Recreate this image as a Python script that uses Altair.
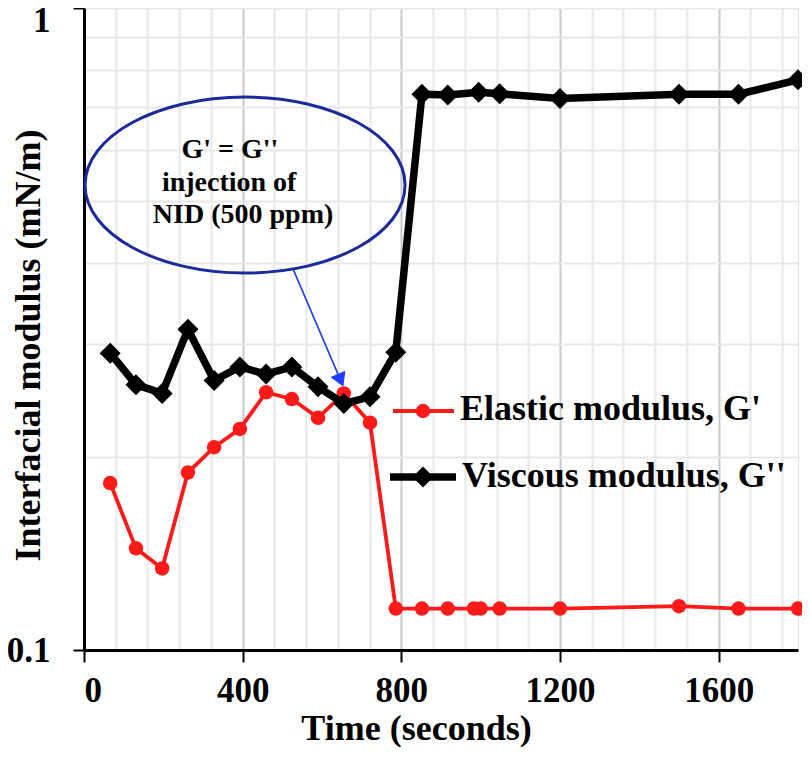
import altair as alt
import pandas as pd

# ---- data ----
elastic_t = [66, 131, 197, 262, 328, 393, 459, 524, 590, 655, 721, 786, 852, 917, 983, 1000, 1048, 1200, 1500, 1650, 1800]
elastic_v = [0.182, 0.144, 0.134, 0.189, 0.207, 0.221, 0.252, 0.246, 0.230, 0.251, 0.226,
             0.116, 0.116, 0.116, 0.116, 0.116, 0.116, 0.116, 0.117, 0.116, 0.116]
viscous_t = [66, 131, 197, 262, 328, 393, 459, 524, 590, 655, 721, 786, 852, 917, 995, 1048, 1200, 1500, 1650, 1800]
viscous_v = [0.290, 0.259, 0.251, 0.316, 0.263, 0.276, 0.269, 0.276, 0.257, 0.242, 0.248, 0.291,
             0.734, 0.732, 0.739, 0.735, 0.723, 0.734, 0.734, 0.773]

series_names = ["Elastic modulus, G'", "Viscous modulus, G''"]
x_grid_values = list(range(0, 1800, 80))
y_grid_values = [0.1, 0.2, 0.3, 0.4, 0.5, 0.6, 0.7, 0.8, 0.9, 1.0]

annot_lines = ["G' = G''", "injection of", "NID (500 ppm)"]
annot_t = [368, 366, 401]
annot_v = [0.601, 0.534, 0.476]
ellipse_t = [406]
ellipse_v = [0.530]
arrow_t = [528, 647]
arrow_v = [0.391, 0.263]

FONT = "Liberation Serif"

el = pd.DataFrame({"t": elastic_t, "v": elastic_v})
vi = pd.DataFrame({"t": viscous_t, "v": viscous_v})

xscale = alt.Scale(domain=[0, 1800], nice=False, zero=False)
yscale = alt.Scale(type="log", domain=[0.1, 1], nice=False)

xaxis = alt.Axis(
    values=x_grid_values,
    format="d",
    labelExpr="datum.value % 400 === 0 ? datum.label : ''",
    grid=True,
    gridColor={"condition": {"test": "datum.value % 400 === 0", "value": "#c3cbcb"}, "value": "#e8e8e8"},
    gridWidth=2,
    tickOpacity={"condition": {"test": "datum.value % 400 === 0", "value": 1}, "value": 0},
    tickSize=12, tickWidth=2, tickColor="black",
    labelPadding=11, labelFont=FONT, labelFontSize=35, labelFontWeight="bold", labelColor="black",
    domainColor="black", domainWidth=3,
    title="Time (seconds)", titleFont=FONT, titleFontSize=36, titleFontWeight="bold", titleColor="black",
    titleX=332, titleY=89, titleBaseline="alphabetic", titleAlign="center",
)
yaxis = alt.Axis(
    values=y_grid_values,
    labelExpr="datum.value < 0.15 ? '0.1' : (datum.value > 0.95 ? '1' : '')",
    labelOffset={"condition": {"test": "datum.value > 0.95", "value": 12}, "value": 0},
    grid=True, gridColor="#e8e8e8", gridWidth=2,
    tickOpacity={"condition": {"test": "datum.value < 0.15 || datum.value > 0.95", "value": 1}, "value": 0},
    tickSize=11, tickWidth=2, tickColor="black",
    labelPadding=23, labelFont=FONT, labelFontSize=35, labelFontWeight="bold", labelColor="black",
    domainColor="black", domainWidth=3,
    title="Interfacial modulus (mN/m)", titleFont=FONT, titleFontSize=36, titleFontWeight="bold",
    titleColor="black", titleAngle=270, titleX=-56, titleY=337, titleBaseline="middle", titleAlign="center",
)

X = alt.X("t:Q", scale=xscale, axis=xaxis)
Y = alt.Y("v:Q", scale=yscale, axis=yaxis)

red = "#ff1a1a"

elastic = alt.Chart(el).mark_line(color=red, strokeWidth=3.8).encode(x=X, y=Y)
elastic_pts = alt.Chart(el).mark_point(shape="circle", filled=True, color=red, size=210, opacity=1).encode(x=X, y=Y)
viscous = alt.Chart(vi).mark_line(color="black", strokeWidth=7.5).encode(x=X, y=Y)
viscous_pts = alt.Chart(vi).mark_point(shape="diamond", filled=True, color="black", size=440, opacity=1).encode(x=X, y=Y)

# annotation
ell_df = pd.DataFrame({"t": ellipse_t, "v": ellipse_v})
ellipse = alt.Chart(ell_df).mark_point(
    shape="M-1,0A1,0.55,0,1,0,1,0A1,0.55,0,1,0,-1,0Z",
    filled=False, stroke="#1a2a9c", strokeWidth=3, size=102400, opacity=1,
).encode(x=X, y=Y)

ann_df = pd.DataFrame({"t": annot_t, "v": annot_v, "txt": annot_lines})
ann_text = alt.Chart(ann_df).mark_text(
    font=FONT, fontSize=28, fontWeight="bold", color="black", align="center", baseline="middle"
).encode(x=X, y=Y, text="txt:N")

arr_df = pd.DataFrame({"t": [arrow_t[0]], "v": [arrow_v[0]], "t2": [arrow_t[1]], "v2": [arrow_v[1]]})
arrow_line = alt.Chart(arr_df).mark_rule(color="#1f3cff", strokeWidth=1.6).encode(
    x=X, y=Y, x2="t2:Q", y2="v2:Q")
head_df = pd.DataFrame({"t": [arrow_t[1]], "v": [arrow_v[1]]})
arrow_head = alt.Chart(head_df).mark_point(
    shape="triangle-down", filled=True, color="#1f3cff", size=260, angle=337, opacity=1
).encode(x=X, y=Y)

# in-plot legend (one row per legend entry)
leg_red = alt.Chart(pd.DataFrame({"name": [series_names[0]]}))
leg_blk = alt.Chart(pd.DataFrame({"name": [series_names[1]]}))
leg_red_line = leg_red.mark_rule(color=red, strokeWidth=3.8).encode(
    x=alt.value(309), x2=alt.value(370), y=alt.value(403))
leg_red_pt = leg_red.mark_point(shape="circle", filled=True, color=red, size=210, opacity=1).encode(
    x=alt.value(339), y=alt.value(403))
leg_red_txt = leg_red.mark_text(
    font=FONT, fontSize=36, fontWeight="bold", color="black",
    align="left", baseline="middle").encode(x=alt.value(376), y=alt.value(401), text="name:N")
leg_blk_line = leg_blk.mark_rule(color="black", strokeWidth=7.5).encode(
    x=alt.value(306), x2=alt.value(372), y=alt.value(469))
leg_blk_pt = leg_blk.mark_point(shape="diamond", filled=True, color="black", size=440, opacity=1).encode(
    x=alt.value(339), y=alt.value(469))
leg_blk_txt = leg_blk.mark_text(
    font=FONT, fontSize=36, fontWeight="bold", color="black",
    align="left", baseline="middle").encode(x=alt.value(378), y=alt.value(468), text="name:N")

chart = alt.layer(
    elastic, elastic_pts, viscous, viscous_pts,
    ellipse, ann_text, arrow_line, arrow_head,
    leg_red_line, leg_red_pt, leg_red_txt, leg_blk_line, leg_blk_pt, leg_blk_txt,
).properties(
    width=714, height=642,
    autosize=alt.AutoSizeParams(type="none"),
    padding={"left": 76, "top": 0, "right": 4, "bottom": 97},
).configure_view(stroke="black", strokeWidth=3).configure(background="white")

chart.save("out.html", embed_options={"renderer": "svg", "actions": False})
